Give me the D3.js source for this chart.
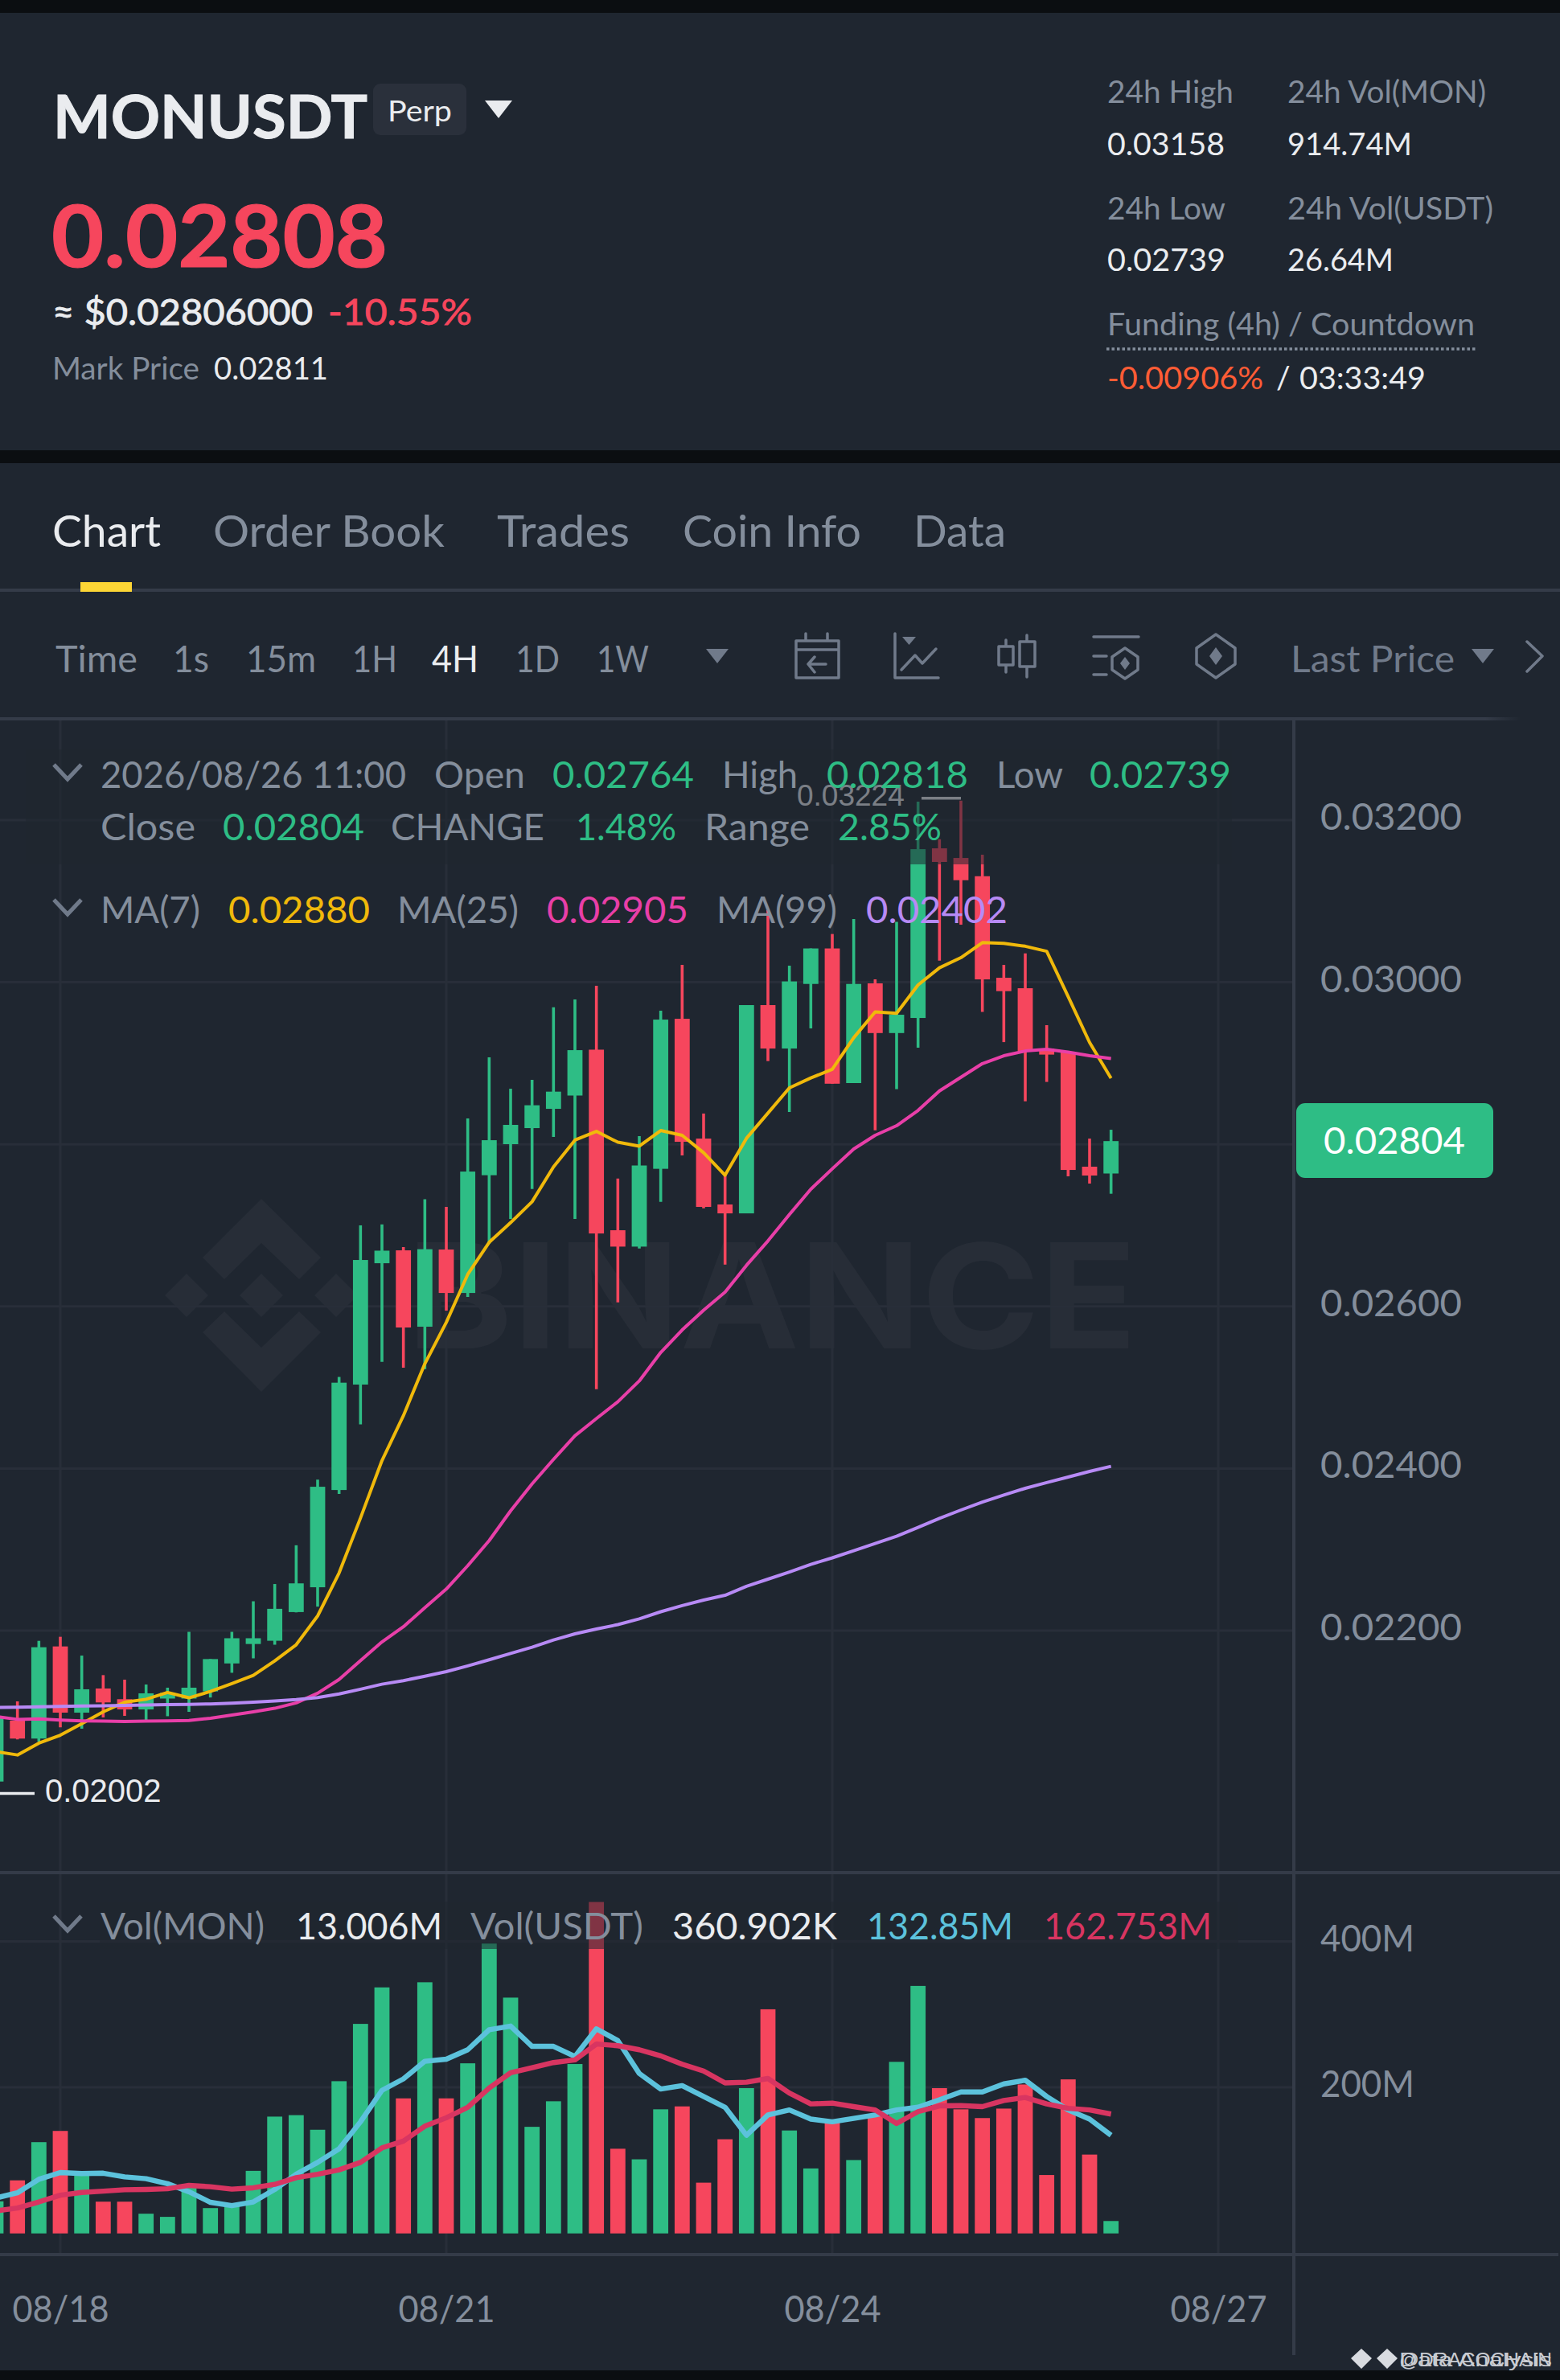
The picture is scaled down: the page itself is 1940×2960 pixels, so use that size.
<!DOCTYPE html>
<html>
<head>
<meta charset="utf-8">
<style>
html,body{margin:0;padding:0;background:#0b0e11}
svg{display:block}
text{font-family:Lato,"Open Sans",sans-serif}
</style>
<script src="https://cdn.jsdelivr.net/npm/d3@7/dist/d3.min.js"></script>
</head>
<body>
<svg id="c" width="1940" height="2960" viewBox="0 0 1940 2960"></svg>
<script>
// ---- data: candle index 0 is 08/18 00:00, one candle every 4 hours
const firstCandleIndex = -3;
const opens = [0.020138,0.020889,0.020668,0.021805,0.020988,0.021286,0.021154,0.021028,0.021162,0.021162,0.02125,0.021595,0.021835,0.021875,0.022229,0.022535,0.023735,0.025036,0.026533,0.026692,0.02575,0.026702,0.026166,0.027619,0.028002,0.0282,0.028438,0.028602,0.029168,0.02694,0.026738,0.027698,0.029549,0.028071,0.027258,0.027148,0.029718,0.029182,0.029979,0.030417,0.028756,0.029986,0.029373,0.029559,0.031652,0.031533,0.031308,0.030055,0.029926,0.029182,0.029137,0.027724,0.02764];
const highs = [0.021,0.021127,0.021874,0.021924,0.021692,0.021451,0.021395,0.021335,0.021296,0.021985,0.021649,0.021985,0.022362,0.022575,0.023053,0.023863,0.02513,0.027,0.027012,0.026732,0.027322,0.027228,0.028319,0.029073,0.028686,0.028795,0.029691,0.029788,0.029957,0.027579,0.028101,0.029648,0.030214,0.02838,0.027625,0.028718,0.030888,0.030204,0.030417,0.030595,0.030779,0.030036,0.030745,0.032228,0.031764,0.03224,0.031573,0.030214,0.030356,0.02947,0.029137,0.028071,0.02818];
const lows = [0.020138,0.020658,0.020631,0.020807,0.02079,0.020929,0.020948,0.020896,0.020944,0.020998,0.021175,0.02148,0.021658,0.021826,0.022225,0.022296,0.023686,0.024545,0.025316,0.025244,0.025227,0.025948,0.026117,0.026772,0.027079,0.02745,0.028091,0.027079,0.024979,0.026051,0.026715,0.027291,0.027863,0.027211,0.026516,0.027148,0.029027,0.028398,0.02943,0.028748,0.028756,0.028172,0.028681,0.029192,0.030267,0.03071,0.029634,0.029261,0.028531,0.02877,0.027605,0.027516,0.02739];
const closes = [0.020919,0.020668,0.021795,0.020988,0.021276,0.021114,0.021028,0.021226,0.021232,0.021296,0.021649,0.021906,0.021906,0.022269,0.022583,0.023775,0.025059,0.026573,0.026688,0.02574,0.026706,0.026166,0.027664,0.028051,0.02824,0.028482,0.02865,0.029162,0.0269,0.026738,0.027739,0.029539,0.028031,0.027228,0.027148,0.029718,0.029182,0.03001,0.030417,0.028748,0.029979,0.029373,0.029599,0.031642,0.031484,0.031259,0.030035,0.02989,0.029152,0.029107,0.027684,0.027615,0.02804];
const ma7 = [0.020506,0.020466,0.020612,0.02071,0.020851,0.020998,0.021117,0.021153,0.021237,0.021171,0.02125,0.021347,0.021449,0.021627,0.021826,0.022181,0.022711,0.02339,0.024098,0.024652,0.025293,0.025803,0.026395,0.026791,0.027034,0.027291,0.027721,0.028052,0.02816,0.028026,0.027978,0.02817,0.028111,0.027897,0.027619,0.028075,0.028385,0.028696,0.028819,0.028925,0.029315,0.029634,0.029616,0.029966,0.030178,0.030303,0.030489,0.03048,0.030444,0.030382,0.029824,0.029257,0.028815];
const ma25 = [0.020941,0.020905,0.02091,0.020896,0.020887,0.020883,0.020878,0.020883,0.020887,0.020892,0.020919,0.020958,0.020998,0.021042,0.021108,0.021228,0.021397,0.021631,0.021861,0.022048,0.022282,0.022513,0.022801,0.023111,0.023478,0.02381,0.024113,0.024404,0.024616,0.024824,0.025081,0.025432,0.02571,0.025953,0.026176,0.026507,0.026808,0.027134,0.027446,0.027698,0.027942,0.028111,0.02823,0.028418,0.028659,0.028828,0.028996,0.029093,0.029152,0.029172,0.029137,0.029093,0.029058];
const ma99 = [0.021051,0.021056,0.02106,0.021065,0.021069,0.021073,0.021077,0.021082,0.021087,0.021091,0.021095,0.021104,0.021117,0.021131,0.021149,0.021175,0.021219,0.021277,0.021339,0.021383,0.021437,0.021494,0.021565,0.02164,0.021719,0.021795,0.021884,0.02196,0.02202,0.022074,0.022145,0.022233,0.022309,0.022377,0.022436,0.022546,0.022635,0.022724,0.022818,0.022898,0.022986,0.023075,0.023164,0.023274,0.023385,0.023488,0.023587,0.023673,0.023756,0.023827,0.023895,0.023964,0.024027];
const volumes = [44,72.7,125,140.4,81,43.5,43.5,27,22.7,67,34.7,39,85.7,160,162,142,208.5,287,337,185,344,185,233,397,323,146,181,232,454,116,101.5,170,174,69.5,129,199,307,141,89,153,100.5,162,235,339,199,170,158,171,204,80,211,108,17];
const volMaShort = [48.6,55.6,74.1,83.4,82,82.5,77.4,75,68.1,57,42.6,38,43.1,60.2,81.1,97.3,115.8,152.9,196,211.7,235.8,238.6,251.6,278.9,284,256.2,256.2,242.3,280.3,264.1,219.1,197.8,202.5,187.6,172.8,134.4,162.2,169.1,156.6,152.9,157.5,162.2,169.1,172.8,183,193.7,193.7,204.8,209.9,187.6,169.1,156.6,134.4];
const volMaLong = [31,34.7,43.1,52.4,56.1,57.9,59.8,60.2,61.2,65.8,63.9,60.7,62.5,67.2,76.4,81.1,87.1,97.3,117.2,126.5,146.9,158.4,172.8,199.2,220.1,227,234,237.7,259.4,257.1,251.6,243.2,231.7,222.4,206.2,207.1,212.2,192.3,177.4,178.4,173.7,169.1,150.6,166.8,174.7,175.1,173.7,182.1,186.2,177.4,171.4,169.1,163.5];
const priceTicks = [0.032,0.03,0.028,0.026,0.024,0.022];
const volumeTicks = [400,200];
const dateTickIndex = [0,18,36,54];
const dateTickLabels = ["08/18","08/21","08/24","08/27"];
const highValue = 0.03224, lowValue = 0.02002, lastValue = 0.02804;

// ---- palette
const BG="#1f2630", BLACK="#0b0e11", LINE="#343b48", GRID="#282e39", GREY="#848e9c", ICON="#707a8a",
      WHITE="#eaecef", GREEN="#2ebd85", RED="#f6465d", YELLOW="#f0b90b", PINK="#e83fa8", PURPLE="#b78af5",
      BLUE="#5cc2dc", CRIMSON="#d83561", WM="#272d37";

const svg = d3.select("#c");
const x = d3.scaleLinear().domain([0,54]).range([75,1515]);
const y = d3.scaleLinear().domain([0.022,0.032]).range([2028,1020]);
const yV = d3.scaleLinear().domain([0,400]).range([2777.7,2414.5]);

const candles = opens.map((o,k)=>({i:firstCandleIndex+k,o,h:highs[k],l:lows[k],c:closes[k],v:volumes[k],up:closes[k]>=o}));
const rect=(g,a,b,w,h,f,o)=>g.append("rect").attr("x",a).attr("y",b).attr("width",w).attr("height",h).attr("fill",f).attr("opacity",o==null?1:o);
const fit=(t,w)=>t.attr("textLength",w).attr("lengthAdjust","spacingAndGlyphs");
const txt=(g,s,a,b,size,f,len,w,anchor,fam)=>{const t=g.append("text").attr("x",a).attr("y",b).attr("font-size",size).attr("fill",f).text(s);
  if(len)fit(t,len); if(w)t.attr("font-weight",w); if(anchor)t.attr("text-anchor",anchor); if(fam)t.style("font-family",fam); return t;};

// ---- page panels
rect(svg,0,0,1940,2960,BLACK);
rect(svg,0,16,1940,544,BG);
rect(svg,0,576,1940,2372,BG);

// ---- header
const head=svg.append("g");
txt(head,"MONUSDT",66,172,75,WHITE,391,700).attr("stroke",WHITE).attr("stroke-width",1);
head.append("rect").attr("x",464).attr("y",104).attr("width",116).attr("height",64).attr("rx",9).attr("fill","#2a303b");
txt(head,"Perp",482,151,37,WHITE,80);
head.append("path").attr("d","M603 125H637L620 147Z").attr("fill",WHITE);
txt(head,"0.02808",64,332,108,RED,418,700).attr("stroke",RED).attr("stroke-width",1.2);
txt(head,"≈ $0.02806000",65,404,45,WHITE,324).attr("stroke",WHITE).attr("stroke-width",.8);
txt(head,"-10.55%",408,404,45,RED,179).attr("stroke",RED).attr("stroke-width",.8);
txt(head,"Mark Price",65,472,38,GREY,183);
txt(head,"0.02811",266,472,38,WHITE,142);
[["24h High",1377,128,GREY,157],["0.03158",1377,193,WHITE,146],["24h Vol(MON)",1601,128,GREY,247],["914.74M",1601,193,WHITE,155],
 ["24h Low",1377,273,GREY,147],["0.02739",1377,337,WHITE,147],["24h Vol(USDT)",1601,273,GREY,256],["26.64M",1601,337,WHITE,132],
 ["Funding (4h) / Countdown",1377,417,GREY,457],["-0.00906%",1377,484,"#ff5c35",194],["/",1587,484,WHITE,null],["03:33:49",1616,484,WHITE,157]]
 .forEach(d=>txt(head,d[0],d[1],d[2],39,d[3],d[4]));
head.append("line").attr("x1",1376).attr("x2",1836).attr("y1",434).attr("y2",434).attr("stroke",GREY).attr("stroke-width",3.5).attr("stroke-dasharray","3.5 3");

// ---- tabs
const tabs=svg.append("g");
[["Chart",65,WHITE,135],["Order Book",265,GREY,288],["Trades",618,GREY,165],["Coin Info",849,GREY,222],["Data",1136,GREY,115]]
 .forEach(d=>txt(tabs,d[0],d[1],680,54,d[2],d[3]));
rect(tabs,0,732,1940,4,LINE);
rect(tabs,100,724,64,12,"#fcd535");

// ---- toolbar
const bar=svg.append("g");
[["Time",69,GREY,102],["1s",215,GREY,45],["15m",306,GREY,87],["1H",438,GREY,56],["4H",537,WHITE,58],["1D",641,GREY,55],["1W",742,GREY,65],["Last Price",1605,ICON,204]]
 .forEach(d=>txt(bar,d[0],d[1],836,46,d[2],d[3]));
bar.append("path").attr("d","M878 807H906L892 825Z M1830 807H1858L1844 825Z").attr("fill",ICON);
const ic=bar.append("g").attr("fill","none").attr("stroke",ICON).attr("stroke-width",3.5).attr("stroke-linejoin","round").attr("stroke-linecap","round");
ic.append("path").attr("d","M990 797H1043V843H990Z M990 808H1043 M1002 788V797 M1029 788V797 M1027 826H1005 M1013 817L1005 826L1013 836");
ic.append("path").attr("d","M1113 788V843H1167 M1121 833L1138 815L1147 825L1164 807");
bar.append("path").attr("d","M1122 792H1139L1130.5 802Z").attr("fill",ICON);
ic.append("path").attr("d","M1242 804H1260V827H1242Z M1251 796V804 M1251 827V836 M1268 798H1287V829H1268Z M1277 790V798 M1277 829V842");
ic.append("path").attr("d","M1360 792H1416 M1360 816H1376 M1360 839H1376 M1399 806L1415 817V833L1399 844L1383 833V817Z");
bar.append("path").attr("d","M1399 817L1405 825L1399 833L1393 825Z M1512 805L1520 816L1512 827L1504 816Z").attr("fill",ICON);
ic.append("path").attr("d","M1512 789L1536 806V826L1512 843L1488 826V806Z M1899 798L1918 816L1899 835");
const fade=svg.append("defs").append("linearGradient").attr("id","fade").attr("gradientUnits","userSpaceOnUse").attr("x1",1847).attr("x2",1891).attr("y1",0).attr("y2",0);
fade.append("stop").attr("offset",0).attr("stop-color",LINE);
fade.append("stop").attr("offset",1).attr("stop-color",LINE).attr("stop-opacity",0);
rect(bar,0,892,1891,4,"url(#fade)");

// ---- watermark
const wm=svg.append("g").attr("fill",WM);
wm.append("path").attr("d","M325 1491L399 1564L372 1591L325 1546L279 1591L252 1564Z M325 1731L399 1657L372 1631L325 1676L279 1631L252 1657Z M232 1584L259 1611L232 1638L205 1611Z M325 1584L352 1611L325 1638L298 1611Z M418 1584L445 1611L418 1638L391 1611Z");
wm.append("text").attr("x",506).attr("y",1677).attr("font-size",181).attr("font-weight",700).attr("textLength",908).attr("lengthAdjust","spacingAndGlyphs").style("font-family","Inter").text("BINANCE");

// ---- grid lines
const grid=svg.append("g").attr("stroke",GRID).attr("stroke-width",3);
grid.selectAll("line.p").data(priceTicks).join("line").attr("class","p").attr("x1",0).attr("x2",1609).attr("y1",d=>y(d)).attr("y2",d=>y(d));
grid.selectAll("line.v").data(volumeTicks).join("line").attr("class","v").attr("x1",0).attr("x2",1609).attr("y1",d=>yV(d)).attr("y2",d=>yV(d));
grid.selectAll("line.t").data(dateTickIndex).join("line").attr("class","t").attr("x1",d=>x(d)).attr("x2",d=>x(d)).attr("y1",896).attr("y2",2802);

// ---- candles
const cg=svg.append("g");
cg.selectAll("line").data(candles).join("line")
  .attr("x1",d=>x(d.i)).attr("x2",d=>x(d.i)).attr("y1",d=>y(d.h)).attr("y2",d=>y(d.l))
  .attr("stroke",d=>d.up?GREEN:RED).attr("stroke-width",3.6);
cg.selectAll("rect").data(candles).join("rect")
  .attr("x",d=>x(d.i)-9.4).attr("width",18.8)
  .attr("y",d=>y(Math.max(d.o,d.c))).attr("height",d=>Math.max(2,Math.abs(y(d.o)-y(d.c))))
  .attr("fill",d=>d.up?GREEN:RED);

// ---- moving averages
const lineP=d3.line().x((d,k)=>x(firstCandleIndex+k)).y(d=>y(d));
const lineV=d3.line().x((d,k)=>x(firstCandleIndex+k)).y(d=>yV(d));
[[ma7,YELLOW,4],[ma25,PINK,4],[ma99,PURPLE,4]].forEach(d=>
  svg.append("path").datum(d[0]).attr("d",lineP).attr("fill","none").attr("stroke",d[1]).attr("stroke-width",d[2]).attr("stroke-linejoin","round"));

// ---- high and low labels
const hiX=x(candles.find(d=>d.h===highValue).i);
svg.append("line").attr("x1",hiX-49).attr("x2",hiX).attr("y1",y(highValue)-3).attr("y2",y(highValue)-3).attr("stroke",WHITE).attr("stroke-width",3.5);
txt(svg,d3.format(".5f")(highValue),hiX-204,1002,37,WHITE,null,null,null,"'Liberation Sans'");
svg.append("line").attr("x1",0).attr("x2",43).attr("y1",y(lowValue)+3).attr("y2",y(lowValue)+3).attr("stroke",WHITE).attr("stroke-width",3.5);
txt(svg,d3.format(".5f")(lowValue),56,2241,40,WHITE,null,null,null,"'Liberation Sans'");

// ---- volume bars
const vg=svg.append("g");
vg.selectAll("rect").data(candles).join("rect")
  .attr("x",d=>x(d.i)-9.4).attr("width",18.8).attr("y",d=>yV(d.v)).attr("height",d=>yV(0)-yV(d.v)).attr("fill",d=>d.up?GREEN:RED);
[[volMaShort,BLUE],[volMaLong,CRIMSON]].forEach(d=>
  svg.append("path").datum(d[0]).attr("d",lineV).attr("fill","none").attr("stroke",d[1]).attr("stroke-width",6.4).attr("stroke-linejoin","round"));

// ---- panel rules, drawn over the grid
rect(svg,0,2327,1940,4,LINE);
rect(svg,0,2802,1938,4,LINE);
rect(svg,1607,896,4,2033,LINE);

// ---- legend veils (the legend block dims what runs behind it)
rect(svg,32,932,1500,143,BG,0.55);
rect(svg,124,2365,1416,59,BG,0.55);

// ---- legends
const lg=svg.append("g");
const chev=(yy)=>lg.append("path").attr("d",`M67 ${yy}L84 ${yy+18}L101 ${yy}`).attr("fill","none").attr("stroke",ICON).attr("stroke-width",5);
chev(951);chev(1119);chev(2383);
[["2026/08/26 11:00",125,980,GREY,380],["Open",540,980,GREY,113],["0.02764",687,980,GREEN,176],["High",898,980,GREY,94],["0.02818",1028,980,GREEN,176],["Low",1239,980,GREY,83],["0.02739",1355,980,GREEN,176],
 ["Close",125,1045,GREY,118],["0.02804",277,1045,GREEN,176],["CHANGE",486,1045,GREY,191],["1.48%",716,1045,GREEN,125],["Range",876,1045,GREY,131],["2.85%",1042,1045,GREEN,129],
 ["MA(7)",125,1148,GREY,124],["0.02880",284,1148,"#f0b90b",176],["MA(25)",494,1148,GREY,151],["0.02905",680,1148,PINK,176],["MA(99)",891,1148,GREY,150],["0.02402",1077,1148,PURPLE,176],
 ["Vol(MON)",125,2412,GREY,204],["13.006M",368,2412,WHITE,182],["Vol(USDT)",585,2412,GREY,215],["360.902K",836,2412,WHITE,205],["132.85M",1078,2412,BLUE,182],["162.753M",1298,2412,CRIMSON,209]]
 .forEach(d=>txt(lg,d[0],d[1],d[2],46,d[3],d[4]));

// ---- axes
const axP=svg.append("g").attr("transform","translate(1642,0)")
  .call(d3.axisRight(y).tickValues(priceTicks).tickFormat(d3.format(".5f")).tickSize(0).tickPadding(0));
const axV=svg.append("g").attr("transform","translate(1642,0)")
  .call(d3.axisRight(yV).tickValues(volumeTicks).tickFormat(d=>d+"M").tickSize(0).tickPadding(0));
const axD=svg.append("g").attr("transform","translate(0,2888)")
  .call(d3.axisBottom(x).tickValues(dateTickIndex).tickFormat((d,k)=>dateTickLabels[k]).tickSize(0).tickPadding(0));
[axP,axV,axD].forEach(a=>{a.select(".domain").remove();a.selectAll("text").attr("font-size",46).attr("fill",GREY).style("font-family","Lato");});
fit(axP.selectAll("text").attr("dy",11.5),176);
fit(axV.selectAll("text").attr("dy",11.5),117);
fit(axD.selectAll("text").attr("y",0).attr("dy",0),120);

// ---- last price tag
svg.append("rect").attr("x",1612).attr("y",1372).attr("width",245).attr("height",93).attr("rx",11).attr("fill",GREEN);
txt(svg,d3.format(".5f")(lastValue),1734,1435,46,"#ffffff",176,null,"middle");

// ---- footer watermark
const ft=svg.append("g").attr("fill","#d8dbe0");
ft.append("path").attr("d","M1693 2921L1706 2933L1693 2946L1680 2933Z M1725 2921L1738 2933L1725 2946L1712 2933Z");
txt(ft,"@DRACOCHAIN",1740,2943,24,"#c9ccd2",190,null,null,"'Liberation Sans'");
txt(ft,"Data Analysis",1740,2943,24,"#c9ccd2",190,null,null,"'Liberation Sans'");
</script>
</body>
</html>
